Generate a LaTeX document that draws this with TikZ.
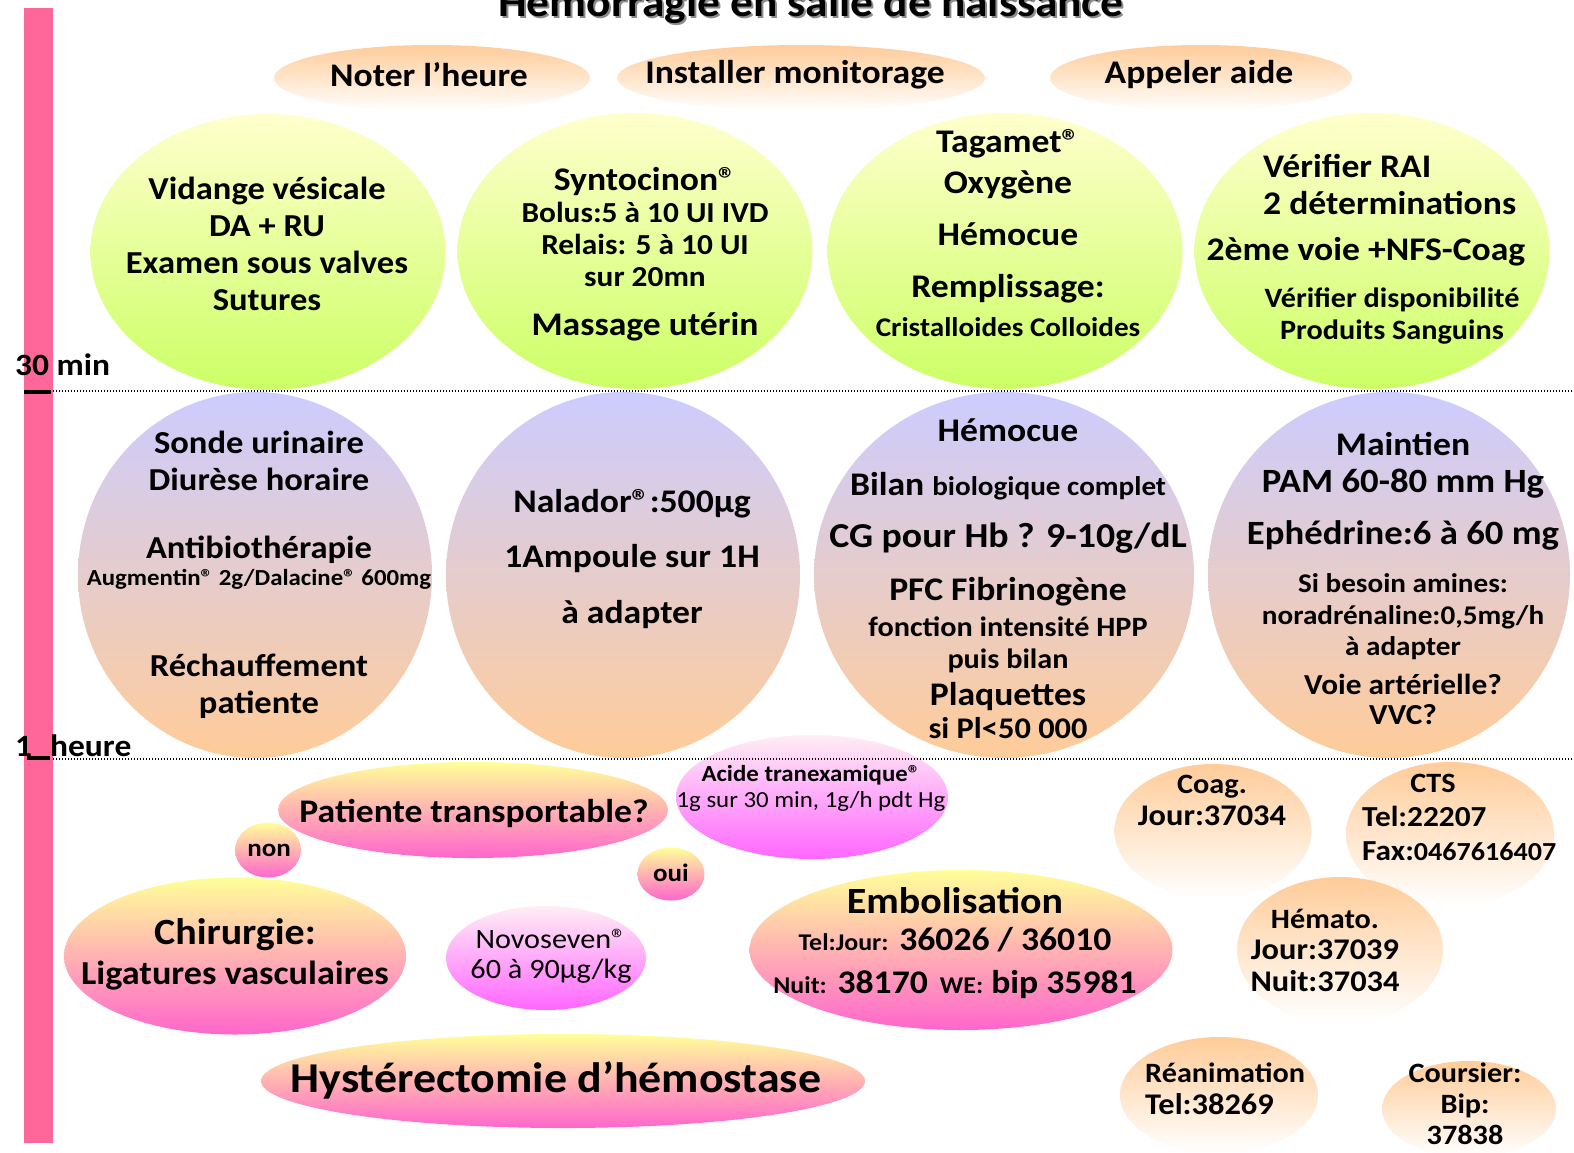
\documentclass[tikz,border=0pt]{standalone}
\usepackage{fontspec}
\setmainfont[FakeStretch=1.08]{Carlito}
\usetikzlibrary{shapes.geometric}

\definecolor{barpink}{HTML}{FF6699}
\definecolor{peach}{HTML}{FFCC99}
\definecolor{paleyellow}{HTML}{FFFFCC}
\definecolor{lime}{HTML}{CCFF66}
\definecolor{lavender}{HTML}{CCCCFF}
\definecolor{butter}{HTML}{FFFF99}
\definecolor{rosy}{HTML}{FF66CC}
\definecolor{blush}{HTML}{FFEEF4}
\definecolor{violetpink}{HTML}{FF66FF}

\newcommand{\fsz}[2]{\fontsize{#1}{#2}\selectfont}

\tikzstyle{bubble} = [ellipse, draw=none, inner sep=0pt]
\tikzstyle{headbub} = [bubble, top color=peach, middle color=peach!45, bottom color=white]
\tikzstyle{greenbub} = [bubble, top color=paleyellow, bottom color=lime]
\tikzstyle{bluebub} = [bubble, top color=lavender, bottom color=peach]
\tikzstyle{pinkbub} = [bubble, top color=butter, bottom color=rosy]
\tikzstyle{drugbub} = [bubble, top color=blush, bottom color=violetpink]
\tikzstyle{phonebub} = [bubble, top color=peach, middle color=peach!40, bottom color=white]
\tikzstyle{txt} = [align=center, inner sep=0pt, font=\bfseries\fsz{32}{37}]
\tikzstyle{timeline} = [dash pattern=on 1.3pt off 1.7pt, line width=1.5pt]

\begin{document}
\begin{tikzpicture}[x=1pt, y=-1pt]

    \useasboundingbox (0,0) rectangle (1574,1152);
    \fill[white] (0,0) rectangle (1574,1152);

    % Time bar
    \fill[barpink] (24,8) rectangle (53,1143);

    % Title
    \node[txt, font=\bfseries\fsz{42}{46}, text=black!45, anchor=base] (titre-ombre) at (813,18) {Hémorragie en salle de naissance};
    \node[txt, font=\bfseries\fsz{42}{46}, anchor=base] (titre) at (811,16) {Hémorragie en salle de naissance};

    % First actions
    \node[headbub, minimum width=316, minimum height=66] (note) at (432,78) {};
    \node[headbub, minimum width=368, minimum height=66] (moni) at (801,78) {};
    \node[headbub, minimum width=302, minimum height=66] (aide) at (1201,78) {};

    % 0 - 30 min
    \node[greenbub, minimum width=355, minimum height=276] (vidange) at (268,252) {};
    \node[greenbub, minimum width=355, minimum height=276] (synto) at (635,251) {};
    \node[greenbub, minimum width=355, minimum height=276] (tagamet) at (1005,251) {};
    \node[greenbub, minimum width=355, minimum height=276] (rai) at (1372,251) {};

    % 30 min - 1 heure
    \node[bluebub, minimum width=354, minimum height=366] (sonde) at (255,575) {};
    \node[bluebub, minimum width=354, minimum height=366] (nalador) at (623,575) {};
    \node[bluebub, minimum width=380, minimum height=366] (bilan) at (1004,575) {};
    \node[bluebub, minimum width=362, minimum height=366] (maintien) at (1389,575) {};

    % After 1 heure
    \node[drugbub, minimum width=272, minimum height=124] (acide) at (812,797) {};
    \node[pinkbub, minimum width=390, minimum height=96] (transp) at (473,810) {};
    \node[pinkbub, minimum width=66, minimum height=55] (non) at (268,850) {};
    \node[pinkbub, minimum width=67, minimum height=53] (oui) at (671,874) {};
    \node[pinkbub, minimum width=342, minimum height=157] (chir) at (235,956) {};
    \node[drugbub, minimum width=200, minimum height=104] (novo) at (546,958) {};
    \node[pinkbub, minimum width=423, minimum height=160] (embol) at (961,950) {};
    \node[pinkbub, minimum width=604, minimum height=94] (hyst) at (563,1081) {};

    % Phone numbers
    \node[phonebub, minimum width=197, minimum height=134] (coag) at (1213,831) {};
    \node[phonebub, minimum width=208, minimum height=144] (cts) at (1450,834) {};
    \node[phonebub, minimum width=206, minimum height=146] (hemato) at (1340,950) {};
    \node[phonebub, minimum width=198, minimum height=116] (rea) at (1219,1095) {};
    \node[phonebub, minimum width=174, minimum height=96] (coursier) at (1469,1109) {};

    % Time marks
    \draw[timeline] (53,391) -- (1574,391);
    \draw[timeline] (53,759) -- (1574,759);
    \draw[line width=4pt] (24,392) -- (51,392);
    \draw[line width=3.5pt] (27,758) -- (50,758);
    \node[txt, font=\bfseries\fsz{31}{34}, anchor=west] (trente) at (15,365) {30 min};
    \node[txt, font=\bfseries\fsz{31}{34}, anchor=west] (heure) at (15,746) {1\hspace{18pt}heure};

    % Texts
    \node[txt, font=\bfseries\fsz{33}{37}] (note-t) at (429,75) {Noter l’heure};
    \node[txt, font=\bfseries\fsz{33}{37}] (moni-t) at (795,75) {Installer monitorage};
    \node[txt, font=\bfseries\fsz{33}{37}] (aide-t) at (1199,75) {Appeler aide};

    \node[txt] (vidange-t) at (267,244) {Vidange vésicale\\DA + RU\\Examen sous valves\\Sutures};
    \node[txt, font=\bfseries\fsz{29}{32}] (synto-t) at (645,254) {{\fsz{33}{32}Syntocinon®}\\Bolus:5 à 10 UI IVD\\Relais: 5 à 10 UI\\sur 20mn\\[17pt]{\fsz{33}{32}Massage utérin}};
    \node[txt, font=\bfseries\fsz{33}{41}] (tagamet-t) at (1008,233) {Tagamet®\\Oxygène\\[11pt]Hémocue\\[11pt]Remplissage:\\[-2pt]{\fsz{27}{30}Cristalloides Colloides}};
    \node[txt, font=\bfseries\fsz{33}{37}, align=left, anchor=west] (rai-t) at (1263,185) {Vérifier RAI\\2 déterminations};
    \node[txt, font=\bfseries\fsz{33}{37}] (voie-t) at (1366,252) {2ème voie +NFS-Coag};
    \node[txt, font=\bfseries\fsz{28}{32}] (produits-t) at (1392,316) {Vérifier disponibilité\\Produits Sanguins};

    \node[txt] (sonde-t) at (259,575) {Sonde urinaire\\Diurèse horaire\\[31pt]Antibiothérapie\\[-10pt]{\fsz{23}{26}Augmentin® 2g/Dalacine® 600mg}\\[54pt]Réchauffement\\patiente};
    \node[txt, font=\bfseries\fsz{33}{55.5}] (nalador-t) at (632,559) {Nalador®:500µg\\1Ampoule sur 1H\\à adapter};
    \node[txt, font=\bfseries\fsz{33}{32}] (bilan-t) at (1008,579) {Hémocue\\[22pt]Bilan {\fsz{27}{30}biologique complet}\\[20pt]{\fsz{35}{32}CG pour Hb ? 9-10g/dL}\\[21pt]PFC Fibrinogène\\[4pt]{\fsz{28}{30}fonction intensité HPP}\\{\fsz{28}{30}puis bilan}\\[5pt]Plaquettes\\[1pt]{\fsz{30}{30}si Pl<50 000}};
    \node[txt, font=\bfseries\fsz{34}{32}] (maintien-t) at (1403,578) {{\fsz{33}{32}Maintien}\\[5pt]PAM 60-80 mm Hg\\[20pt]Ephédrine:6 à 60 mg\\[16pt]{\fsz{27}{30}Si besoin amines:}\\{\fsz{27}{30}noradrénaline:0,5mg/h}\\[-1pt]{\fsz{27}{30}à adapter}\\[7pt]{\fsz{29}{30}Voie artérielle?}\\[-2pt]{\fsz{29}{30}VVC?}};

    \node[txt, font=\bfseries\fsz{23}{26}] (acide-t) at (811,788) {Acide tranexamique®\\{\mdseries 1g sur 30 min, 1g/h pdt Hg}};
    \node[txt, font=\bfseries\fsz{33}{37}] (transp-t) at (474,813) {Patiente transportable?};
    \node[txt, font=\bfseries\fsz{25}{28}] (non-t) at (269,850) {non};
    \node[txt, font=\bfseries\fsz{25}{28}] (oui-t) at (671,873) {oui};
    \node[txt, font=\bfseries\fsz{33.5}{40}] (chir-t) at (235,954) {{\fsz{37}{40}Chirurgie:}\\Ligatures vasculaires};
    \node[txt, font=\mdseries\fsz{28}{30}] (novo-t) at (551,956) {Novoseven®\\60 à 90µg/kg};
    \node[txt, font=\bfseries\fsz{33}{37}] (embol-t) at (955,943) {{\fsz{37}{40}Embolisation}\\{\fsz{24}{26}Tel:Jour:} 36026 / 36010\\[6pt]{\fsz{24}{26}Nuit:} 38170\hspace{12pt}{\fsz{24}{26}WE:} bip 35981};
    \node[txt, font=\bfseries\fsz{42.5}{48}] (hyst-t) at (556,1080) {Hystérectomie d’hémostase};

    \node[txt, font=\bfseries\fsz{30}{32}] (coag-t) at (1212,800) {{\fsz{28}{32}Coag.}\\Jour:37034};
    \node[txt, font=\bfseries\fsz{28}{32}] (cts-t) at (1433,783) {CTS};
    \node[txt, font=\bfseries\fsz{29}{34}, align=left, anchor=west] (cts-num) at (1362,833) {Tel:22207\\Fax:{\fsz{26}{28}0467616407}};
    \node[txt, font=\bfseries\fsz{30}{31.5}] (hemato-t) at (1325,950) {{\fsz{28}{31.5}Hémato.}\\Jour:37039\\Nuit:37034};
    \node[txt, font=\bfseries\fsz{28}{32}, align=left, anchor=west] (rea-t) at (1145,1089) {Réanimation\\{\fsz{30}{32}Tel:38269}};
    \node[txt, font=\bfseries\fsz{28}{31}] (coursier-t) at (1465,1104) {Coursier:\\Bip:\\37838};

\end{tikzpicture}
\end{document}
